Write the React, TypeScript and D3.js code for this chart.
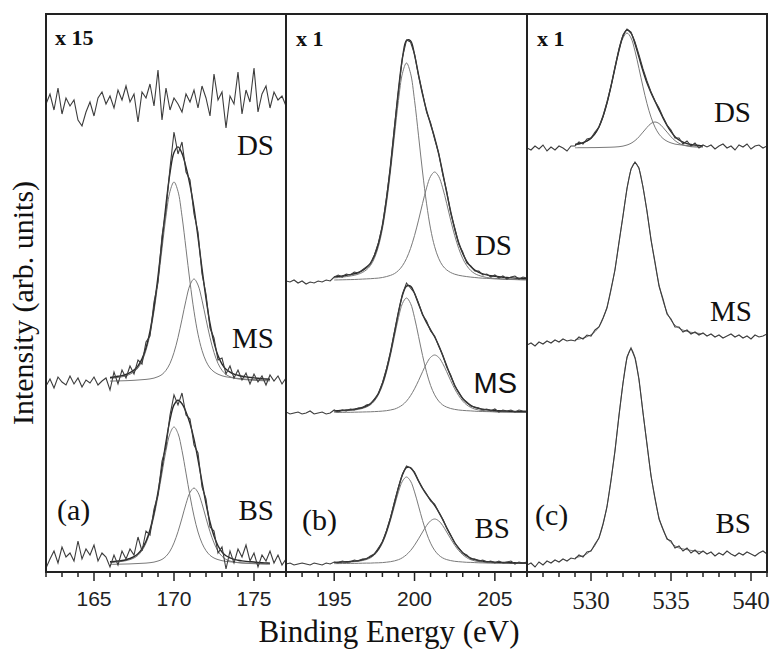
import React from 'react'
import * as d3 from 'd3'

// energy grid step (eV) shared by every spectrum
const STEP = 0.25

// ---- panel (a): S 2p, x 15 ----
const aDomain = [162, 177]
const aRawStart = 162
const aFitStart = 166
const aOffsets = [460, 190, 7] // DS, MS, BS
const aRawDS = [8, 18, 2, 24, -2, 14, 6, 12, -8, -14, 0, 10, -4, 14, 20, 8, 16, 4, 22, 12, 26, 10, 18, -10, 20, 14, 28, 6, 42, -8, 24, 2, 14, 8, 0, 18, 10, 22, 4, 26, 14, -4, 38, 12, 20, -16, 16, 8, 40, -2, 22, 10, 44, 0, 18, 26, 4, 20, 12, 16, 6]
const aRawMS = [-4, 3, -6, 5, 0, -3, 6, -2, 4, -5, 2, -1, 5, -3, 1, 4,
  -8, 10, -2, 12, 4, 16, 8, 22, 18, 40, 46, 80, 100, 146, 172, 214, 250, 228, 240, 210, 202, 168, 150, 108, 88, 54, 44, 22, 24, 8, 16, 4, 12, 2, 9, -2, 8, 0, 6, -3, 7,
  1, 6, -2, 4]
const aRawBS = [-3, 6, 14, 2, 18, 8, 12, 4, 24, 6, 16, 10, 20, 4, 12, 8,
  -2, 10, 0, 14, 6, 16, 10, 28, 14, 34, 30, 56, 70, 104, 118, 150, 170, 160, 172, 150, 146, 120, 112, 78, 66, 38, 34, 12, 18, -4, 14, 2, 16, 8, 20, 4, 12, -2, 10, 4, 14,
  2, 10, 0, 6]
const aEnvMS = [4.5, 5.0, 5.7, 6.4, 7.5, 9.3, 11.9, 16.0, 23.1, 34.2, 50.9, 74.7, 105.3, 140.7, 177.5, 209.2, 229.5, 235.1, 228.6, 215.0, 197.0, 173.8, 144.8, 113.4, 83.6, 58.5, 39.7, 26.4, 17.9, 12.7, 9.9, 7.9, 6.7, 5.8, 5.1, 4.6, 4.1, 3.7, 3.2, 3.0, 2.7]
const aC1MS = [3.6, 4.0, 4.6, 5.2, 6.2, 7.8, 10.2, 14.0, 20.8, 31.6, 47.8, 70.8, 100, 133.2, 165.8, 190.6, 200, 190.6, 165.8, 133.2, 100, 70.8, 47.8, 31.6, 20.8, 14.0, 10.2, 7.8, 6.2, 5.2, 4.6, 4.0, 3.6, 3.2, 2.8, 2.6, 2.4, 2.2, 1.9, 1.8, 1.6]
const aC2MS = [0.9, 1.0, 1.1, 1.2, 1.3, 1.5, 1.7, 2.0, 2.3, 2.6, 3.1, 3.9, 5.3, 7.5, 11.7, 18.6, 29.5, 44.5, 62.8, 81.8, 97.0, 103, 97.0, 81.8, 62.8, 44.5, 29.5, 18.6, 11.7, 7.5, 5.3, 3.9, 3.1, 2.6, 2.3, 2.0, 1.7, 1.5, 1.3, 1.2, 1.1]
const aEnvBS = [3.2, 3.5, 4.0, 4.5, 5.3, 6.5, 8.3, 11.2, 16.1, 23.7, 35.3, 51.8, 73.0, 97.5, 123.1, 145.4, 160.1, 164.8, 161.3, 153.1, 141.5, 125.9, 105.5, 83.0, 61.3, 43.0, 29.1, 19.3, 13.0, 9.2, 7.2, 5.7, 4.8, 4.1, 3.6, 3.3, 3.0, 2.6, 2.3, 2.1, 1.9]
const aC1BS = [2.5, 2.8, 3.2, 3.6, 4.3, 5.4, 7.0, 9.7, 14.4, 21.8, 33.0, 48.9, 69.0, 91.9, 114.4, 131.5, 138, 131.5, 114.4, 91.9, 69.0, 48.9, 33.0, 21.8, 14.4, 9.7, 7.0, 5.4, 4.3, 3.6, 3.2, 2.8, 2.5, 2.2, 1.9, 1.8, 1.7, 1.5, 1.3, 1.2, 1.1]
const aC2BS = [0.7, 0.7, 0.8, 0.9, 1.0, 1.1, 1.3, 1.5, 1.7, 1.9, 2.3, 2.9, 4.0, 5.6, 8.7, 13.9, 22.1, 33.3, 46.9, 61.2, 72.5, 77.0, 72.5, 61.2, 46.9, 33.3, 22.1, 13.9, 8.7, 5.6, 4.0, 2.9, 2.3, 1.9, 1.7, 1.5, 1.3, 1.1, 1.0, 0.9, 0.8]

// ---- panel (b): N 1s, x 1 ----
const bDomain = [192, 207]
const bRawStart = 192
const bFitStart = 195
const bOffsets = [291, 159, 8]
const bRawDS = [0, -1, 1, -2, 0, -3, -1, -2, 0, -1, 1, 0,
  4, 6, 4, 7, 6, 9, 8, 11, 14, 17, 26, 38, 55, 83, 114, 154, 190, 224, 241, 239, 227, 205, 188, 169, 158, 142, 128, 107, 90, 68, 53, 37, 29, 18, 15, 10, 10, 6, 7, 4, 6, 3, 5, 2, 4, 5, 2, 4, 3]
const bRawMS = [1, -1, 0, 1, -1, 0, 2, -1, 0, 1, -1, 0,
  3, 1, 3, 2, 4, 3, 5, 5, 8, 9, 14, 19, 30, 44, 60, 81, 101, 119, 130, 125, 120, 110, 98, 92, 82, 77, 67, 58, 46, 38, 27, 21, 14, 11, 7, 6, 5, 3, 4, 2, 4, 1, 3, 2, 3, 1, 3, 2, 2]
const bRawBS = [0, 1, -1, 0, 1, 0, -1, 1, 0, -1, 1, 0,
  2, 1, 3, 2, 2, 4, 3, 5, 5, 8, 10, 16, 22, 33, 46, 62, 77, 90, 98, 96, 92, 83, 76, 70, 63, 60, 52, 45, 36, 29, 21, 16, 11, 9, 5, 5, 3, 4, 2, 3, 1, 3, 1, 2, 3, 0, 2, 1, 2]
const bEnvDS = [4.1, 4.6, 5.1, 5.7, 6.4, 7.2, 8.5, 10.4, 13.2, 17.6, 25.3, 37.3, 55.6, 81.6, 114.6, 152.6, 191.2, 223.1, 240.5, 240.3, 226.2, 206.1, 186.6, 170.4, 156.8, 143.4, 127.4, 108.5, 88.7, 69.4, 52.3, 38.2, 27.5, 19.7, 14.4, 10.9, 8.7, 7.2, 6.1, 5.3, 4.7, 4.3, 3.8, 3.5, 3.2, 2.9, 2.7, 2.5, 2.4]
const bC1DS = [3.1, 3.5, 3.9, 4.4, 5.0, 5.7, 6.8, 8.5, 11.1, 15.3, 22.7, 34.4, 52.1, 77.2, 109.0, 145.2, 180.7, 207.8, 218, 207.8, 180.7, 145.2, 109.0, 77.2, 52.1, 34.4, 22.7, 15.3, 11.1, 8.5, 6.8, 5.7, 5.0, 4.4, 3.9, 3.5, 3.1, 2.8, 2.6, 2.4, 2.1, 2.0, 1.7, 1.6, 1.5, 1.4, 1.3, 1.2, 1.2]
const bC2DS = [1.0, 1.1, 1.2, 1.3, 1.4, 1.5, 1.7, 1.9, 2.1, 2.3, 2.6, 2.9, 3.5, 4.4, 5.6, 7.4, 10.5, 15.3, 22.5, 32.5, 45.5, 60.9, 77.6, 93.2, 104.7, 109, 104.7, 93.2, 77.6, 60.9, 45.5, 32.5, 22.5, 15.3, 10.5, 7.4, 5.6, 4.4, 3.5, 2.9, 2.6, 2.3, 2.1, 1.9, 1.7, 1.5, 1.4, 1.3, 1.2]
const bEnvMS = [2.1, 2.4, 2.7, 3.0, 3.3, 3.8, 4.5, 5.5, 7.0, 9.3, 13.4, 19.8, 29.4, 43.0, 60.5, 80.5, 100.9, 117.7, 126.9, 126.9, 119.5, 109.0, 98.8, 90.3, 83.2, 76.2, 67.7, 57.7, 47.2, 36.9, 27.8, 20.3, 14.5, 10.4, 7.7, 5.7, 4.6, 3.8, 3.3, 2.9, 2.5, 2.2, 2.0, 1.9, 1.7, 1.5, 1.4, 1.4, 1.2]
const bC1MS = [1.6, 1.8, 2.1, 2.3, 2.6, 3.0, 3.6, 4.5, 5.9, 8.1, 12.0, 18.2, 27.5, 40.7, 57.5, 76.6, 95.3, 109.6, 115, 109.6, 95.3, 76.6, 57.5, 40.7, 27.5, 18.2, 12.0, 8.1, 5.9, 4.5, 3.6, 3.0, 2.6, 2.3, 2.1, 1.8, 1.6, 1.5, 1.4, 1.3, 1.1, 1.0, 0.9, 0.9, 0.8, 0.7, 0.7, 0.7, 0.6]
const bC2MS = [0.5, 0.6, 0.6, 0.7, 0.7, 0.8, 0.9, 1.0, 1.1, 1.2, 1.4, 1.6, 1.9, 2.3, 3.0, 3.9, 5.6, 8.1, 11.9, 17.3, 24.2, 32.4, 41.3, 49.6, 55.7, 58, 55.7, 49.6, 41.3, 32.4, 24.2, 17.3, 11.9, 8.1, 5.6, 3.9, 3.0, 2.3, 1.9, 1.6, 1.4, 1.2, 1.1, 1.0, 0.9, 0.8, 0.7, 0.7, 0.6]
const bEnvBS = [1.6, 1.8, 2.1, 2.2, 2.6, 2.9, 3.4, 4.2, 5.3, 7.0, 10.1, 14.9, 22.2, 32.6, 45.8, 61.0, 76.4, 89.2, 96.3, 96.3, 90.9, 83.1, 75.5, 69.3, 64.0, 58.7, 52.2, 44.6, 36.4, 28.6, 21.5, 15.7, 11.3, 8.0, 5.9, 4.5, 3.5, 2.9, 2.4, 2.2, 1.9, 1.7, 1.6, 1.5, 1.3, 1.2, 1.1, 1.0, 1.0]
const bC1BS = [1.2, 1.4, 1.6, 1.7, 2.0, 2.3, 2.7, 3.4, 4.4, 6.1, 9.0, 13.7, 20.8, 30.8, 43.5, 57.9, 72.1, 82.9, 87, 82.9, 72.1, 57.9, 43.5, 30.8, 20.8, 13.7, 9.0, 6.1, 4.4, 3.4, 2.7, 2.3, 2.0, 1.7, 1.6, 1.4, 1.2, 1.1, 1.0, 1.0, 0.8, 0.8, 0.7, 0.7, 0.6, 0.6, 0.5, 0.5, 0.5]
const bC2BS = [0.4, 0.4, 0.5, 0.5, 0.6, 0.6, 0.7, 0.8, 0.9, 0.9, 1.1, 1.2, 1.4, 1.8, 2.3, 3.1, 4.3, 6.3, 9.3, 13.4, 18.8, 25.2, 32.0, 38.5, 43.2, 45, 43.2, 38.5, 32.0, 25.2, 18.8, 13.4, 9.3, 6.3, 4.3, 3.1, 2.3, 1.8, 1.4, 1.2, 1.1, 0.9, 0.9, 0.8, 0.7, 0.6, 0.6, 0.5, 0.5]

// ---- panel (c): O 1s, x 1 ----
const cDomain = [526, 541]
const cRawStart = 526
const cFitStart = 529
const cOffsets = [424, 228, 9]
const cRawDS = [0, -2, 2, -1, 3, -3, 1, -2, 2, 0, -3, 2,
  2, 6, 4, 9, 10, 16, 21, 32, 46, 62, 81, 99, 113, 119, 116, 106, 93, 79, 67, 56, 47, 40, 31, 23, 18, 10, 10, 4, 7, 2, 5, 0, 3,
  1, 3, -1, 2, 4, 0, 2, -2, 3, 1, 4, -1, 2, 3, 0, 2]
const cRawMS = [-1, 1, -2, 2, 0, 3, 1, 4, 2, 5, 3, 4,
  3, 7, 5, 9, 8, 14, 17, 26, 36, 55, 74, 102, 128, 156, 175, 182, 176, 157, 133, 104, 82, 58, 45, 30, 25, 17, 17, 12, 14, 10, 12, 9, 11,
  8, 10, 7, 9, 6, 8, 10, 7, 9, 6, 8, 5, 9, 7, 8, 10]
const cRawBS = [-2, 0, -4, 1, -2, 2, 0, 3, 1, 4, 2, 5,
  4, 8, 6, 11, 12, 19, 25, 39, 56, 83, 112, 148, 180, 206, 215, 205, 184, 150, 119, 87, 65, 44, 34, 24, 22, 15, 17, 12, 15, 10, 13, 9, 12,
  9, 11, 7, 10, 8, 12, 9, 7, 10, 8, 11, 9, 7, 10, 12, 9]
const cEnvDS = [3.5, 4.2, 5.4, 7.1, 9.9, 14.3, 21.3, 31.5, 45.1, 61.9, 80.4, 98.2, 112.0, 118.0, 114.8, 104.3, 90.6, 77.0, 65.0, 55.4, 46.8, 38.4, 30.1, 22.7, 16.3, 11.3, 8.0, 5.9, 4.4, 3.5, 3.0, 2.6, 2.3]
const cC1DS = [3.3, 3.9, 5.1, 6.8, 9.5, 13.9, 20.8, 30.9, 44.4, 61.1, 79.4, 96.9, 110.1, 115, 110.1, 96.9, 79.4, 61.1, 44.4, 30.9, 20.8, 13.9, 9.5, 6.8, 5.1, 3.9, 3.3, 2.9, 2.5, 2.2, 2.0, 1.8, 1.6]
const cC2DS = [0.2, 0.3, 0.3, 0.3, 0.4, 0.4, 0.5, 0.6, 0.7, 0.8, 1.0, 1.3, 1.9, 3.0, 4.7, 7.4, 11.2, 15.9, 20.6, 24.5, 26, 24.5, 20.6, 15.9, 11.2, 7.4, 4.7, 3.0, 1.9, 1.3, 1.0, 0.8, 0.7]
const cFitMS = [4.4, 4.9, 5.8, 7.2, 9.3, 12.3, 17.3, 25.2, 37.1, 53.6, 75.1, 100.8, 128.5, 154.7, 174.2, 181.5, 175.0, 156.7, 131.9, 105.2, 80.3, 59.4, 43.3, 31.6, 23.9, 18.9, 15.9, 13.9, 12.6, 11.7, 11.2, 10.6, 10.3]
const cFitBS = [5.4, 6.2, 7.2, 9.3, 12.6, 17.6, 25.7, 38.4, 57.2, 82.1, 113.0, 147.0, 179.8, 204.5, 214.0, 205.5, 182.2, 150.8, 118.0, 88.0, 63.8, 45.5, 33.1, 25.2, 20.3, 17.1, 15.0, 14.1, 13.3, 12.6, 12.0, 11.6, 11.3]

const sampleNames = ['DS', 'MS', 'BS']
const panelTags = ['(a)', '(b)', '(c)']
const panelFactors = ['x 15', 'x 1', 'x 1']
const majorTicks = [[165, 170, 175], [195, 200, 205], [530, 535, 540]]

const W = 771
const H = 650
const top = 14
const bottom = 572
const edges = [46, 286, 527, 767]

const SERIF = '"Liberation Serif", "Times New Roman", serif'
const SANS = '"Liberation Sans", Arial, sans-serif'

const panels = [
  {
    domain: aDomain, rawStart: aRawStart, fitStart: aFitStart, offsets: aOffsets,
    raw: [aRawDS, aRawMS, aRawBS],
    fits: [[], [aC1MS, aC2MS], [aC1BS, aC2BS]],
    envs: [null, aEnvMS, aEnvBS],
    labelPos: [[274, 155], [274, 348], [274, 520]],
    labelFont: [SERIF, SERIF, SERIF],
    tag: [57, 520],
    tickFont: SANS, tickSize: 21, tickBase: 606,
  },
  {
    domain: bDomain, rawStart: bRawStart, fitStart: bFitStart, offsets: bOffsets,
    raw: [bRawDS, bRawMS, bRawBS],
    fits: [[bC1DS, bC2DS], [bC1MS, bC2MS], [bC1BS, bC2BS]],
    envs: [bEnvDS, bEnvMS, bEnvBS],
    labelPos: [[512, 255], [517, 393], [510, 538]],
    labelFont: [SERIF, SANS, SERIF],
    tag: [302, 530],
    tickFont: SANS, tickSize: 21, tickBase: 606,
  },
  {
    domain: cDomain, rawStart: cRawStart, fitStart: cFitStart, offsets: cOffsets,
    raw: [cRawDS, cRawMS, cRawBS],
    fits: [[cC1DS, cC2DS], [cFitMS], [cFitBS]],
    envs: [cEnvDS, null, null],
    labelPos: [[751, 122], [752, 321], [751, 533]],
    labelFont: [SERIF, SERIF, SERIF],
    tag: [535, 525],
    tickFont: SERIF, tickSize: 25, tickBase: 609,
  },
]

const y = d3.scaleLinear().domain([0, bottom - top]).range([bottom, top])

export default function App() {
  return (
    <svg width={W} height={H} style={{ position: 'absolute', left: 0, top: 0, display: 'block', background: '#fff' }}>
      <defs>
        {panels.map((p, pi) => (
          <clipPath id={`clip${pi}`} key={pi}>
            <rect x={edges[pi]} y={top} width={edges[pi + 1] - edges[pi]} height={bottom - top} />
          </clipPath>
        ))}
      </defs>
      {panels.map((p, pi) => {
        const x = d3.scaleLinear().domain(p.domain).range([edges[pi], edges[pi + 1]])
        const path = (vals: number[], start: number, off: number, smooth: boolean) =>
          d3.line<number>()
            .x((_, i) => x(start + i * STEP))
            .y(v => y(v + off))
            .curve(smooth ? d3.curveCatmullRom.alpha(0.5) : d3.curveLinear)(vals) || ''
        const minor = x.ticks(15)
        return (
          <g key={pi}>
            <g clipPath={`url(#clip${pi})`}>
              {p.raw.map((_, si) => (
                <g key={si}>
                  {p.fits[si].map((c, ci) => (
                    <path key={ci} d={path(c, p.fitStart, p.offsets[si], true)} fill="none" stroke="#7a7a7a" strokeWidth={1} />
                  ))}
                  {p.envs[si] && (
                    <path d={path(p.envs[si] as number[], p.fitStart, p.offsets[si], true)} fill="none" stroke="#2a2a2a" strokeWidth={1.4} />
                  )}
                  <path d={path(p.raw[si], p.rawStart, p.offsets[si], false)} fill="none" stroke="#3c3c3c" strokeWidth={1.1} />
                </g>
              ))}
            </g>
            {minor.map(t => {
              const major = majorTicks[pi].includes(t)
              return (
                <line key={t} x1={x(t)} x2={x(t)} y1={bottom} y2={bottom + (major ? 9 : 5)} stroke="#222" strokeWidth={1.5} />
              )
            })}
            {majorTicks[pi].map(t => (
              <text key={t} x={x(t)} y={p.tickBase} textAnchor="middle" fontFamily={p.tickFont} fontSize={p.tickSize} fill="#222">{t}</text>
            ))}
            {sampleNames.map((n, si) => (
              <text key={n} x={p.labelPos[si][0]} y={p.labelPos[si][1]} textAnchor="end" fontFamily={p.labelFont[si]} fontSize={29} fill="#111">{n}</text>
            ))}
            <text x={p.tag[0]} y={p.tag[1]} fontFamily={SERIF} fontSize={30} fill="#111">{panelTags[pi]}</text>
            <text x={edges[pi] + (pi === 0 ? 9 : 10)} y={pi === 0 ? 45 : 46} fontFamily={SERIF} fontWeight="bold" fontSize={22} fill="#111">{panelFactors[pi]}</text>
          </g>
        )
      })}
      <rect x={edges[0]} y={top} width={edges[3] - edges[0]} height={bottom - top} fill="none" stroke="#222" strokeWidth={2} />
      <line x1={edges[1]} x2={edges[1]} y1={top} y2={bottom} stroke="#222" strokeWidth={2} />
      <line x1={edges[2]} x2={edges[2]} y1={top} y2={bottom} stroke="#222" strokeWidth={2} />
      <text transform="translate(33,303) rotate(-90)" textAnchor="middle" fontFamily={SERIF} fontSize={30} fill="#111">Intensity (arb. units)</text>
      <text x={389} y={642} textAnchor="middle" fontFamily={SERIF} fontSize={31} fill="#111">Binding Energy (eV)</text>
    </svg>
  )
}
